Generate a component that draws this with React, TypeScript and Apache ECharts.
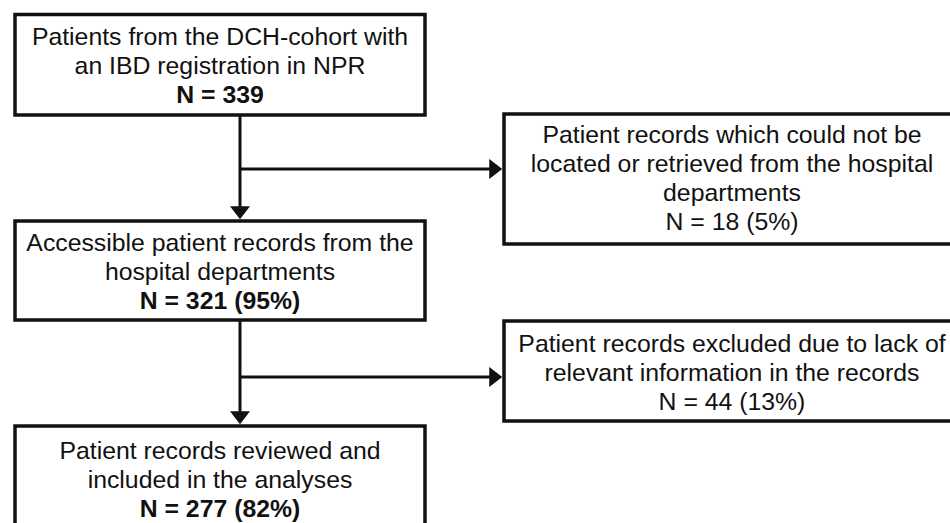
import React, { useEffect, useRef } from "react";
import * as echarts from "echarts";

// Flowchart content
const mainTitles: string[][] = [
  ["Patients from the DCH-cohort with", "an IBD registration in NPR"],
  ["Accessible patient records from the", "hospital departments"],
  ["Patient records reviewed and", "included in the analyses"],
];
const mainCounts: string[] = ["N = 339", "N = 321 (95%)", "N = 277 (82%)"];

const sideTitles: string[][] = [
  ["Patient records which could not be", "located or retrieved from the hospital", "departments"],
  ["Patient records excluded due to lack of", "relevant information in the records"],
];
const sideCounts: string[] = ["N = 18 (5%)", "N = 44 (13%)"];

// Layout (positions only)
const mainBoxes = [
  { y0: 14.5, y1: 115, textC: 65.5 },
  { y0: 221, y1: 320, textC: 271.5 },
  { y0: 426, y1: 545, textC: 479.5 },
];
const sideBoxes = [
  { y0: 114, y1: 244, textC: 178 },
  { y0: 321, y1: 421, textC: 372.5 },
];
const arrowY = [169, 377];

const FONT = "Liberation Sans, Arial, Helvetica, sans-serif";
const FS = 24.8;
const LH = 28.7;
const LW = 3.5;
const INK = "#111";

export default function App() {
  const ref = useRef<HTMLDivElement>(null);
  useEffect(() => {
    if (!ref.current) return;
    const chart = echarts.init(ref.current, null, { renderer: "svg" });
    const els: any[] = [];
    const mainX0 = 15, mainX1 = 425, mainCx = 220;
    const sideX0 = 504, sideX1 = 966, sideCx = 732;
    const stemX = 240;

    const addLines = (lines: { t: string; bold: boolean }[], cx: number, cy: number) => {
      const n = lines.length;
      lines.forEach((ln, i) => {
        els.push({
          type: "text",
          style: {
            text: ln.t,
            x: cx,
            y: cy + (i - (n - 1) / 2) * LH,
            align: "center",
            verticalAlign: "middle",
            fill: INK,
            font: `${ln.bold ? "bold " : ""}${FS}px ${FONT}`,
          },
        });
      });
    };

    mainBoxes.forEach((b, i) => {
      els.push({
        type: "rect",
        shape: { x: mainX0, y: b.y0, width: mainX1 - mainX0, height: b.y1 - b.y0 },
        style: { fill: "#fff", stroke: INK, lineWidth: LW },
      });
      addLines(
        [...mainTitles[i].map((t) => ({ t, bold: false })), { t: mainCounts[i], bold: true }],
        mainCx,
        b.textC
      );
    });
    sideBoxes.forEach((b, i) => {
      els.push({
        type: "rect",
        shape: { x: sideX0, y: b.y0, width: sideX1 - sideX0, height: b.y1 - b.y0 },
        style: { fill: "#fff", stroke: INK, lineWidth: LW },
      });
      addLines(
        [...sideTitles[i].map((t) => ({ t, bold: false })), { t: sideCounts[i], bold: false }],
        sideCx,
        b.textC
      );
    });

    // arrows
    const headL = 13, headW = 10;
    for (let k = 0; k < 2; k++) {
      const top = mainBoxes[k].y1;
      const bot = mainBoxes[k + 1].y0 - LW / 2;
      els.push({
        type: "line",
        shape: { x1: stemX, y1: top, x2: stemX, y2: bot - headL + 1 },
        style: { stroke: INK, lineWidth: 3 },
      });
      els.push({
        type: "polygon",
        shape: { points: [[stemX - headW, bot - headL], [stemX + headW, bot - headL], [stemX, bot]] },
        style: { fill: INK },
      });
      const ay = arrowY[k];
      const tip = sideX0 - LW / 2;
      els.push({
        type: "line",
        shape: { x1: stemX, y1: ay, x2: tip - headL + 1, y2: ay },
        style: { stroke: INK, lineWidth: 3 },
      });
      els.push({
        type: "polygon",
        shape: { points: [[tip - headL, ay - headW], [tip - headL, ay + headW], [tip, ay]] },
        style: { fill: INK },
      });
    }

    chart.setOption({
      animation: false,
      backgroundColor: "#fff",
      graphic: { elements: els },
    });
    return () => chart.dispose();
  }, []);
  return (
    <div
      ref={ref}
      style={{ position: "fixed", left: 0, top: 0, width: 950, height: 523, background: "#fff" }}
    />
  );
}
